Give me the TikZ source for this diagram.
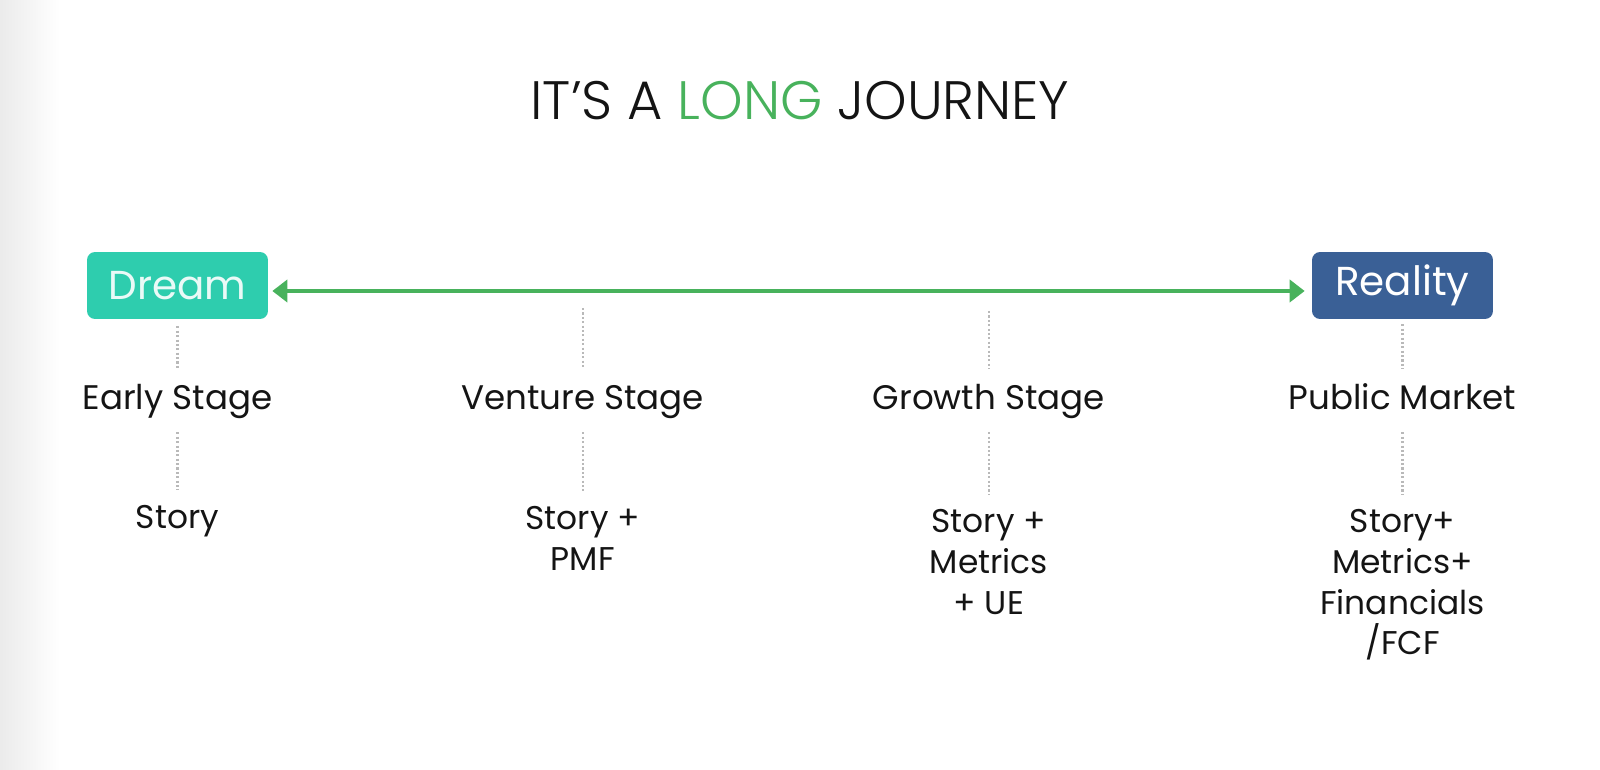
\documentclass[tikz,border=0pt]{standalone}
\usepackage{fontspec}
\setmainfont{Poppins}
\newfontfamily\titlefont{Poppins Light}
\usepackage{tikz}
\usetikzlibrary{arrows.meta,positioning,calc}
\usepackage{xcolor}

\definecolor{dreamteal}{RGB}{46,205,174}
\definecolor{realblue}{RGB}{58,96,150}
\definecolor{longgreen}{RGB}{72,178,92}
\definecolor{guidegray}{RGB}{185,185,185}
\definecolor{inktext}{RGB}{20,20,20}

\tikzset{
    stagebox/.style={rounded corners=0.16cm, minimum width=3.62cm, minimum height=1.34cm,
        inner sep=0pt, font=\fontsize{23}{26}\selectfont},
    stagelabel/.style={inner sep=0pt, text height=0.46cm, text depth=0pt, text=inktext,
        font=\fontsize{19.4}{22}\selectfont},
    needs/.style={inner sep=0pt, anchor=north, align=center, text=inktext,
        font=\fontsize{18.7}{23.2}\selectfont},
    guide/.style={draw=guidegray, line width=0.045cm, dash pattern=on 1.2pt off 1.3pt},
    journey/.style={draw=longgreen, line width=0.08cm,
        {Triangle[length=0.3cm, width=0.44cm]}-{Triangle[length=0.3cm, width=0.44cm]}}
}

\begin{document}
\begin{tikzpicture}[x=0.02cm, y=-0.02cm]
    \useasboundingbox (0,0) rectangle (1600,770);
    % Shadow at the left edge
    \shade[left color=black!8, right color=white] (0,0) rectangle (60,770);

    % Title
    \node[text=inktext, font=\titlefont\fontsize{30.8}{34}\selectfont] (title) at (800,101)
        {IT’S A \textcolor{longgreen}{LONG} JOURNEY};

    % The two ends
    \node[stagebox, fill=dreamteal, text=white!90!dreamteal] (dream) at (177.5,285.5) {Dream};
    \node[stagebox, fill=realblue, text=white] (reality) at (1402.5,285.5) {Reality};
    \draw[journey, shorten <=0.08cm, shorten >=0.14cm]
        ([yshift=-0.11cm]dream.east) -- ([yshift=-0.11cm]reality.west);

    % Stages
    \foreach \i/\x/\lab in {1/177.5/Early Stage,2/582.7/Venture Stage,3/988.8/Growth Stage,4/1402.5/Public Market} {
        \node[stagelabel] (stage\i) at (\x,398.5) {\lab};
    }

    % What each stage is judged on
    \node[needs] (need1) at (177.5,505) {Story};
    \node[needs] (need2) at (582.7,506) {Story +\\PMF};
    \node[needs] (need3) at (988.8,509) {Story +\\Metrics\\+ UE};
    \node[needs] (need4) at (1402.5,509) {Story+\\Metrics+\\Financials\\/FCF};

    % Dotted guides
    \coordinate (top2) at (582.7,308);
    \coordinate (top3) at (988.8,311);
    \draw[guide, shorten <=0.14cm, shorten >=0.36cm] (dream) -- (stage1);
    \draw[guide, shorten >=0.36cm] (top2) -- (stage2);
    \draw[guide, shorten >=0.36cm] (top3) -- (stage3);
    \draw[guide, shorten <=0.1cm, shorten >=0.36cm] (reality) -- (stage4);
    \foreach \i in {1,2,3,4} {
        \draw[guide, shorten <=0.44cm, shorten >=0.3cm] (stage\i) -- (need\i);
    }
\end{tikzpicture}
\end{document}
